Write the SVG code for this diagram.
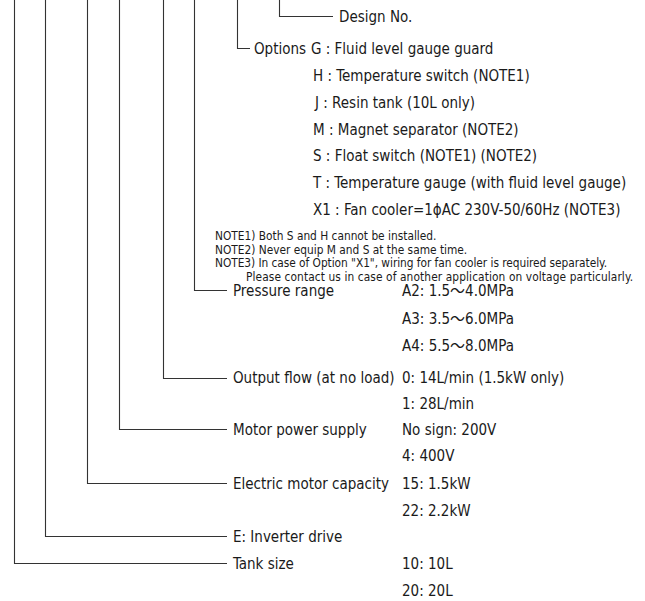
<svg xmlns="http://www.w3.org/2000/svg" width="645" height="601" viewBox="0 0 645 601">
<style>
text{font-family:"DejaVu Sans Condensed","Noto Sans CJK JP",sans-serif;fill:#1a1a1a;font-size:15px}
.n{font-size:11.8px}
.c polyline{stroke:#333;stroke-width:1.1;fill:none}
</style>
<rect width="645" height="601" fill="#fff"/>
<g class="c" id="connectors">
<polyline points="279.5,0 279.5,16.5 333,16.5"/>
<polyline points="237.5,0 237.5,48.5 250,48.5"/>
<polyline points="194.5,0 194.5,290.5 227,290.5"/>
<polyline points="163.5,0 163.5,378.5 227,378.5"/>
<polyline points="119.5,0 119.5,429.5 227,429.5"/>
<polyline points="87.5,0 87.5,483.5 227,483.5"/>
<polyline points="45.5,0 45.5,536.5 227,536.5"/>
<polyline points="14.5,0 14.5,563.5 227,563.5"/>
</g>
<g id="design"><text x="339" y="22">Design No.</text></g>
<g id="options">
<text x="254" y="54">Options</text>
<text x="311" y="54">G : Fluid level gauge guard</text>
<text x="313" y="81">H : Temperature switch (NOTE1)</text>
<text x="315" y="108">J : Resin tank (10L only)</text>
<text x="313" y="135">M : Magnet separator (NOTE2)</text>
<text x="313" y="161">S : Float switch (NOTE1) (NOTE2)</text>
<text x="313" y="188">T : Temperature gauge (with fluid level gauge)</text>
<text x="313" y="215">X1 : Fan cooler=1ϕAC 230V-50/60Hz (NOTE3)</text>
</g>
<g id="notes">
<text class="n" x="215" y="240">NOTE1) Both S and H cannot be installed.</text>
<text class="n" x="215" y="253.5">NOTE2) Never equip M and S at the same time.</text>
<text class="n" x="215" y="267" textLength="392">NOTE3) In case of Option "X1", wiring for fan cooler is required separately.</text>
<text class="n" x="246" y="280.5" textLength="387">Please contact us in case of another application on voltage particularly.</text>
</g>
<g id="pressure">
<text x="233" y="296">Pressure range</text>
<text x="402" y="296">A2: 1.5〜4.0MPa</text>
<text x="402" y="324">A3: 3.5〜6.0MPa</text>
<text x="402" y="351">A4: 5.5〜8.0MPa</text>
</g>
<g id="flow">
<text x="233" y="383">Output flow (at no load)</text>
<text x="402" y="383">0: 14L/min (1.5kW only)</text>
<text x="402" y="409">1: 28L/min</text>
</g>
<g id="power">
<text x="233" y="435">Motor power supply</text>
<text x="402" y="435">No sign: 200V</text>
<text x="402" y="461">4: 400V</text>
</g>
<g id="capacity">
<text x="233" y="489">Electric motor capacity</text>
<text x="402" y="489">15: 1.5kW</text>
<text x="402" y="516">22: 2.2kW</text>
</g>
<g id="inverter"><text x="233" y="542">E: Inverter drive</text></g>
<g id="tank">
<text x="233" y="569">Tank size</text>
<text x="402" y="569">10: 10L</text>
<text x="402" y="596">20: 20L</text>
</g>
</svg>
